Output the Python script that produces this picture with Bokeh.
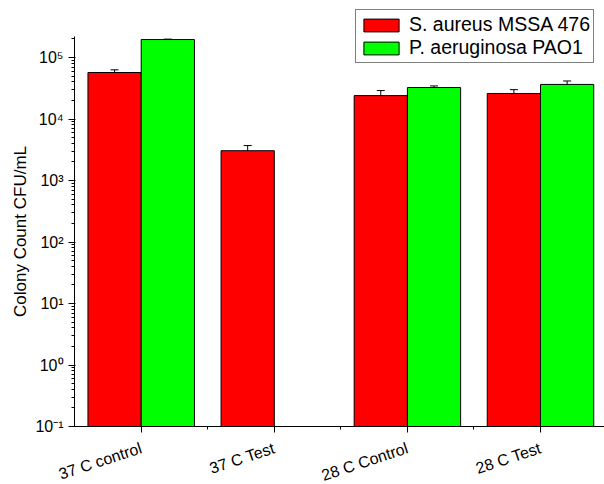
from bokeh.plotting import figure
from bokeh.models import (ColumnDataSource, Range1d, FixedTicker, Whisker, TeeHead,
                          Legend, LegendItem)
from bokeh.embed import file_html
from bokeh.resources import INLINE

categories = ["37 C control", "37 C Test", "28 C Control", "28 C Test"]
series_names = ["S. aureus MSSA 476", "P. aeruginosa PAO1"]
saureus = [5.7e4, 3.05e3, 2.4e4, 2.6e4]
saureus_err = [6.0e3, 6.5e2, 5.0e3, 4.0e3]
paeru = [1.96e5, None, 3.25e4, 3.65e4]
paeru_err = [3.0e3, None, 2.0e3, 5.0e3]
ytick_vals = [0.1, 1, 10, 100, 1000, 1e4, 1e5]
ytick_labels = ["10⁻¹", "10⁰", "10¹", "10²", "10³", "10⁴", "10⁵"]
y_axis_top = 2.2e5
colors = ["#ff0000", "#00ff00"]

FONT = "Liberation Sans"
W, H = 604, 484
PX_PER_DEC = 61.5
PX_PER_CAT = 133.1
y_lo = 10 ** (-1 - (H - 426) / PX_PER_DEC)
y_hi = 10 ** (5 + 57 / PX_PER_DEC)
x_lo = 1 - 140.7 / PX_PER_CAT
x_hi = x_lo + W / PX_PER_CAT
x_axis_left = x_lo + 74 / PX_PER_CAT

xpos = [i + 1 for i in range(len(categories))]

p = figure(width=W, height=H, output_backend="svg", toolbar_location=None,
           y_axis_type="log", x_range=Range1d(x_lo, x_hi), y_range=Range1d(y_lo, y_hi),
           min_border_left=0, min_border_top=0, min_border_bottom=0, min_border_right=0)
p.outline_line_color = None
p.grid.visible = False

def src(vals, errs, shift):
    xs, tops, lo, hi = [], [], [], []
    for x, v, e in zip(xpos, vals, errs):
        if v is None:
            continue
        xs.append(x + shift)
        tops.append(v)
        lo.append(v - e)
        hi.append(v + e)
    return ColumnDataSource(dict(x=xs, top=tops, lower=lo, upper=hi))

s1 = src(saureus, saureus_err, -0.2)
s2 = src(paeru, paeru_err, 0.2)
r1 = p.vbar(x="x", top="top", bottom=ytick_vals[0], width=0.4, source=s1,
            fill_color=colors[0], line_color="black", line_width=1)
r2 = p.vbar(x="x", top="top", bottom=ytick_vals[0], width=0.4, source=s2,
            fill_color=colors[1], line_color="black", line_width=1)
for s in (s1, s2):
    w = Whisker(base="x", upper="upper", lower="lower", source=s, line_color="black",
                line_width=1,
                upper_head=TeeHead(size=8, line_color="black", line_width=1),
                lower_head=TeeHead(size=8, line_color="black", line_width=1))
    p.add_layout(w)

# x axis, drawn at y = 0.1
xa = p.xaxis[0]
xa.fixed_location = ytick_vals[0]
xa.bounds = (x_axis_left, x_hi)
xa.ticker = FixedTicker(ticks=xpos, minor_ticks=[1.5, 2.5, 3.5])
xa.major_label_overrides = {x: c for x, c in zip(xpos, categories)}
xa.major_label_orientation = 0.32
xa.major_label_text_font = FONT
xa.major_label_text_font_size = "16px"
xa.major_label_text_color = "black"
xa.major_label_standoff = 15
xa.major_tick_out = 6
xa.major_tick_in = 0
xa.minor_tick_out = 3
xa.minor_tick_in = 0
xa.axis_line_color = "black"
xa.major_tick_line_color = "black"
xa.minor_tick_line_color = "black"

# y axis, drawn at the left end of the x axis
ya = p.yaxis[0]
ya.fixed_location = x_axis_left
minors = []
for d in ytick_vals:
    minors += [d * k for k in range(2, 10) if d * k <= y_axis_top]
ya.ticker = FixedTicker(ticks=ytick_vals, minor_ticks=minors)
ya.bounds = (ytick_vals[0], y_axis_top)
ya.major_label_overrides = {v: l for v, l in zip(ytick_vals, ytick_labels)}
ya.major_label_text_font = FONT
ya.major_label_text_font_size = "16px"
ya.major_label_text_color = "black"
ya.major_tick_out = 6
ya.major_tick_in = 1
ya.minor_tick_out = 3
ya.minor_tick_in = 0
ya.axis_label = "Colony Count CFU/mL"
ya.axis_label_text_font = FONT
ya.axis_label_text_font_size = "17px"
ya.axis_label_text_font_style = "normal"
ya.axis_label_text_color = "black"
ya.axis_label_standoff = 2
ya.axis_line_color = "black"
ya.major_tick_line_color = "black"
ya.minor_tick_line_color = "black"

legend = Legend(items=[LegendItem(label=series_names[0], renderers=[r1]),
                       LegendItem(label=series_names[1], renderers=[r2])],
                location=(355, H - 63))
legend.label_text_font = FONT
legend.label_text_font_size = "19.5px"
legend.label_text_color = "black"
legend.glyph_width = 44
legend.glyph_height = 16
legend.label_height = 21
legend.spacing = 0
legend.padding = 3
legend.margin = 0
legend.label_standoff = 6
legend.border_line_color = "black"
legend.border_line_width = 1
legend.background_fill_alpha = 1
p.add_layout(legend, "center")

open("out.html", "w").write(file_html(p, INLINE))
